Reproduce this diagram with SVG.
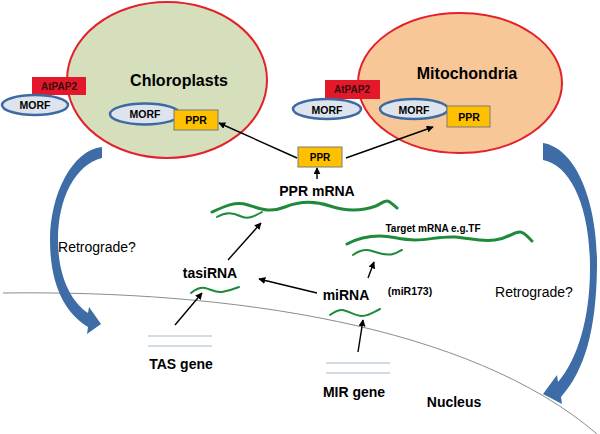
<svg xmlns="http://www.w3.org/2000/svg" width="600" height="434" viewBox="0 0 600 434">
<defs>
<style>
text{font-family:"Liberation Sans",Arial,sans-serif;fill:#000;text-anchor:middle}
.b{font-weight:bold}
.org{stroke:#e3202b;stroke-width:2}
.morf{fill:#dde4ee;stroke:#3e6aa4;stroke-width:2.5}
.ppr{fill:#ffc000;stroke:#7a7a7a;stroke-width:1}
.pap{fill:#e3192b}
.pap-t{fill:#3a0a0a;font-weight:bold;font-size:10px}
.wave{fill:none;stroke:#1f8a3b;stroke-linecap:round}
.gene{stroke:#c3cfe0;stroke-width:1.5}
.arr{fill:none;stroke:#000;stroke-width:1.4;marker-end:url(#ah)}
.blue{fill:#3d6ca7}
</style>
<marker id="ah" viewBox="0 0 10 10" refX="9" refY="5" markerWidth="5" markerHeight="5" orient="auto" markerUnits="strokeWidth">
<path d="M0,0 L10,5 L0,10 Z" fill="#000"/>
</marker>
</defs>
<rect width="600" height="434" fill="#fff"/>

<path id="nucleus-boundary" d="M3,293 C230,290 470,325 597,434" fill="none" stroke="#8c8c8c" stroke-width="1"/>

<g id="chloroplast">
<ellipse cx="167" cy="80" rx="100" ry="78" fill="#d5dfbb" class="org"/>
<text x="179" y="86" class="b" font-size="16">Chloroplasts</text>
</g>
<g id="mitochondria">
<ellipse cx="460" cy="83" rx="102" ry="70" fill="#f8c797" class="org"/>
<text x="467" y="79" class="b" font-size="16">Mitochondria</text>
</g>

<g id="atpap2-chl">
<rect x="32" y="77" width="54" height="18" class="pap"/>
<text x="59" y="90" class="pap-t">AtPAP2</text>
</g>
<g id="morf-chl-out">
<ellipse cx="35" cy="105" rx="33" ry="10" class="morf"/>
<text x="35" y="109" class="b" font-size="10.5">MORF</text>
</g>
<g id="morf-chl-in">
<ellipse cx="145" cy="114" rx="35" ry="10.5" class="morf"/>
<text x="145" y="118" class="b" font-size="10.5">MORF</text>
</g>
<g id="ppr-chl">
<rect x="174" y="110" width="44" height="20" class="ppr"/>
<text x="196" y="124" class="b" font-size="10.5">PPR</text>
</g>

<g id="atpap2-mit">
<rect x="325" y="80" width="55" height="19" class="pap"/>
<text x="352" y="93" class="pap-t">AtPAP2</text>
</g>
<g id="morf-mit-out">
<ellipse cx="327" cy="109" rx="34" ry="10" class="morf"/>
<text x="327" y="114" class="b" font-size="10.5">MORF</text>
</g>
<g id="morf-mit-in">
<ellipse cx="414" cy="109" rx="34" ry="10" class="morf"/>
<text x="414" y="114" class="b" font-size="10.5">MORF</text>
</g>
<g id="ppr-mit">
<rect x="447" y="106" width="43" height="21" class="ppr"/>
<text x="469" y="121" class="b" font-size="10.5">PPR</text>
</g>

<g id="ppr-cyt">
<rect x="298" y="147" width="44" height="20" class="ppr"/>
<text x="320" y="161" class="b" font-size="10">PPR</text>
</g>

<g id="ppr-mrna">
<text x="317" y="196" class="b" font-size="14">PPR mRNA</text>
<path class="wave" stroke-width="3" d="M212,212 C225,206 235,201 248,205 S270,213 285,207 S315,201 330,206 S362,211 376,206 C380,204 384,201 387,201 C390,201 393,205 397,208"/>
<path class="wave" stroke-width="2" d="M217,217 C225,212 232,212 240,216 S255,216 262,212"/>
</g>

<g id="target-mrna">
<text x="433" y="232" class="b" font-size="10">Target mRNA e.g.TF</text>
<path class="wave" stroke-width="3" d="M347,244 C358,238 368,236 380,236 S400,240 415,240 S440,236 455,237 S480,242 495,240 S512,232 520,232 C524,232 528,237 532,241"/>
<path class="wave" stroke-width="2" d="M353,255 C360,250 366,249 372,251 S387,256 393,254 S399,251 402,250"/>
</g>

<g id="tasirna">
<text x="210" y="278" class="b" font-size="14">tasiRNA</text>
<path class="wave" stroke-width="2" d="M191,293 C196,289 200,287 205,288 S216,293 222,292 S234,289 239,287"/>
</g>

<g id="mirna">
<text x="346" y="300" class="b" font-size="14">miRNA</text>
<text x="410" y="295" class="b" font-size="10.5">(miR173)</text>
<path class="wave" stroke-width="2" d="M330,315 C334,312 337,310 342,310 S355,316 362,316 S374,312 380,309"/>
</g>

<g id="tas-gene">
<line x1="148" y1="336" x2="212" y2="336" class="gene"/>
<line x1="148" y1="346" x2="212" y2="346" class="gene"/>
<text x="181" y="369" class="b" font-size="14">TAS gene</text>
</g>

<g id="mir-gene">
<line x1="326" y1="363" x2="390" y2="363" class="gene"/>
<line x1="326" y1="373" x2="390" y2="373" class="gene"/>
<text x="354" y="397" class="b" font-size="14">MIR gene</text>
</g>

<g id="nucleus-label">
<text x="454" y="407" class="b" font-size="14">Nucleus</text>
</g>

<g id="retro-left">
<path class="blue" d="M102,147 C72,150 50,195 50,240 C50,285 65,313 88,327 L87,334 L101,324 L89,307 L88,313 C70,301 58,275 58,240 C58,198 75,165 102,158 Z"/>
<text x="97" y="252" font-size="14">Retrograde?</text>
</g>
<g id="retro-right">
<path class="blue" d="M543,143 C575,148 598,200 597,268 C596,330 585,370 561,397 L562,404 L543,394 L557,375 L558,382 C577,360 590,320 590,268 C590,205 570,165 543,160 Z"/>
<text x="534" y="297" font-size="14">Retrograde?</text>
</g>

<g id="connectors">
<line x1="317" y1="179" x2="317" y2="168" class="arr"/>
<line x1="297" y1="158" x2="219" y2="123" class="arr"/>
<line x1="346" y1="158" x2="433" y2="127" class="arr"/>
<line x1="228" y1="260" x2="261" y2="223" class="arr"/>
<line x1="175" y1="325" x2="202" y2="293" class="arr"/>
<line x1="317" y1="293" x2="259" y2="279" class="arr"/>
<line x1="358" y1="352" x2="363" y2="320" class="arr"/>
<line x1="368" y1="278" x2="374" y2="262" class="arr"/>
</g>
</svg>
